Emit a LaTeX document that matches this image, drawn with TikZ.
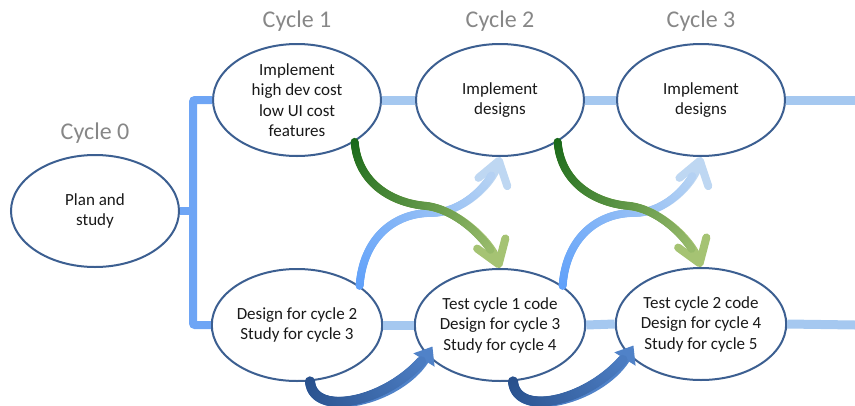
\documentclass[tikz,border=0pt]{standalone}
\usepackage{fontspec}
\setmainfont{Carlito}
\usetikzlibrary{shapes.geometric,arrows.meta,decorations.markings,positioning}
\definecolor{rim}{RGB}{60,95,145}
\definecolor{labgray}{RGB}{135,135,135}
\definecolor{linkblue}{RGB}{165,200,240}
\definecolor{brackblue}{RGB}{110,165,245}
\definecolor{greenA}{RGB}{25,105,25}
\definecolor{greenB}{RGB}{165,195,115}
\definecolor{skyA}{RGB}{95,160,250}
\definecolor{skyB}{RGB}{190,215,242}
\definecolor{navyA}{RGB}{40,80,140}
\definecolor{navyB}{RGB}{80,130,200}

\tikzset{
  cyc/.style={ellipse, draw=rim, line width=2pt, fill=white, minimum width=168pt,
    minimum height=112pt, inner sep=0pt, align=center, text={black!90},
    font=\fontsize{17}{20.5}\selectfont},
  cyclabel/.style={text=labgray, inner sep=0pt, font=\fontsize{24}{28}\selectfont},
  link/.style={line width=9pt, color=linkblue},
  bracket/.style={line width=8pt, color=brackblue, rounded corners=2pt},
  fade/.style n args={4}{decoration={markings,
      mark=between positions 0 and #4 step 1pt with {
        \pgfmathsetmacro\fadepos{\pgfkeysvalueof{/pgf/decoration/mark info/distance from start}/\pgfdecoratedpathlength*100}
        \fill[#2!\fadepos!#1] (0,0) circle (#3);}},
    postaction={decorate}},
  greenarrow/.style={line width=8pt, color=greenB, fade={greenA}{greenB}{4pt}{0.9},
    -{Straight Barb[length=22pt,width=30pt,round]}},
  skyarrow/.style={line width=8pt, color=skyB, fade={skyA}{skyB}{4pt}{0.9},
    -{Straight Barb[length=22pt,width=30pt,round]}},
  navyarrow/.style={line width=10pt, color=navyB, fade={navyA}{navyB}{5pt}{0.88},
    -{Triangle[length=16pt,width=24pt]}}
}

\begin{document}
\begin{tikzpicture}[x=1pt,y=-1pt]
  \useasboundingbox (0,0) rectangle (855,405);

  % cycles
  \node[cyc] (p0) at (95,211) {Plan and\\study};
  \node[cyc] (t1) at (297,100) {Implement\\high dev cost\\low UI cost\\features};
  \node[cyc] (t2) at (500,100) {Implement\\designs};
  \node[cyc] (t3) at (701,100) {Implement\\designs};
  \node[cyc] (b1) at (297,325) {Design for cycle 2\\Study for cycle 3};
  \node[cyc] (b2) at (500,325) {Test cycle 1 code\\Design for cycle 3\\Study for cycle 4};
  \node[cyc] (b3) at (701,324) {Test cycle 2 code\\Design for cycle 4\\Study for cycle 5};

  \node[cyclabel, above=10pt of p0] (l0) {Cycle 0};
  \node[cyclabel, above=11pt of t1] (l1) {Cycle 1};
  \node[cyclabel, above=11pt of t2] (l2) {Cycle 2};
  \node[cyclabel, above=11pt of t3] (l3) {Cycle 3};

  % links
  \coordinate (split) at (193,211);
  \coordinate (topend) at (855,100);
  \coordinate (botend) at (855,325);
  \draw[bracket] (t1.west) -| (split) |- (b1.west);
  \draw[bracket] (p0.east) -- (split);

  \draw[link] (t1.east) -- (t2.west);
  \draw[link] (t2.east) -- (t3.west);
  \draw[link] (t3.east) -- (topend);
  \draw[link] (b1.east) -- (b2.west);
  \draw[link] (b2.east) -- (b3.west);
  \draw[link] (b3.east) -- (botend);

  % hand-over arrows
  \foreach \s/\e/\u/\v in {t1/b2/b1/t2, t2/b3/b2/t3}
  {
    \draw[skyarrow] (\u.32) .. controls +(3,-45) and +(-40,0) .. ++(72,-73)
        .. controls +(30,0) and +(-8,28) .. (\v.south);
    \draw[greenarrow] (\s.-36) .. controls +(3,40) and +(-35,-3) .. ++(71,64)
        .. controls +(30,3) and +(-10,-28) .. (\e.north);
  }

  \foreach \s/\e in {b1/b2, b2/b3}
    \draw[navyarrow] (\s.-77) .. controls +(3,39) and +(-34,54) .. ([shift={(8,-6)}]\e.200);
\end{tikzpicture}
\end{document}
